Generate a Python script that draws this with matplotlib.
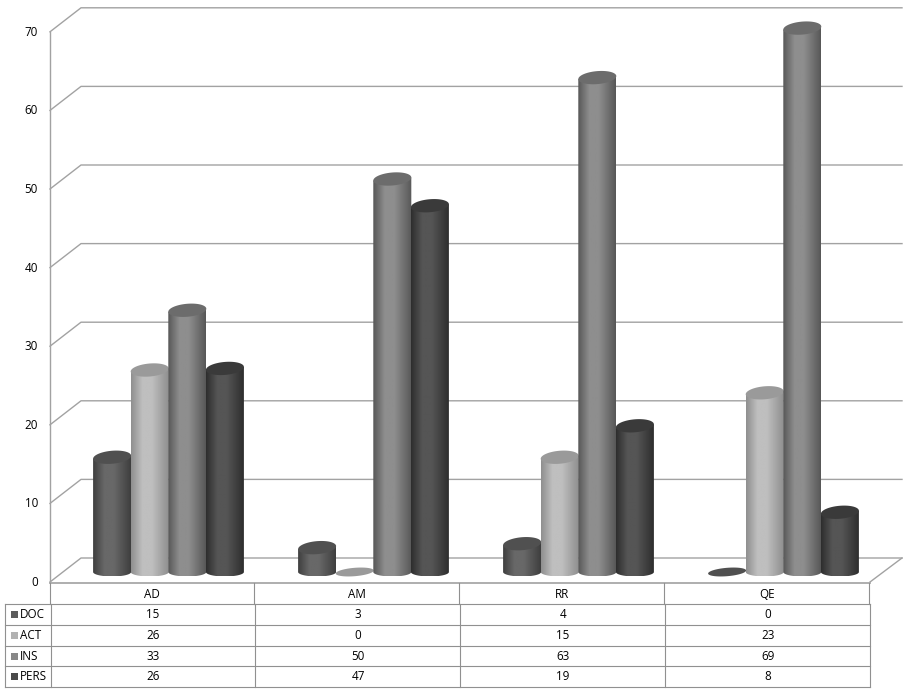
import numpy as np
import matplotlib
matplotlib.use("Agg")
import matplotlib.pyplot as plt
from matplotlib.colors import LinearSegmentedColormap
from matplotlib.patches import Polygon, Rectangle

categories = ["AD", "AM", "RR", "QE"]
series = ["DOC", "ACT", "INS", "PERS"]
# cylinder heights, the table shows them rounded
doc = [14.6, 3.1, 3.6, 0]
act = [25.7, 0, 14.6, 22.8]
ins = [33.3, 50, 62.9, 69.2]
pers = [25.9, 46.6, 18.6, 7.6]
yticks = [0, 10, 20, 30, 40, 50, 60, 70]

# edge, middle, top cap, legend swatch
styles = {
    "DOC": ("#3f3f3f", "#686868", "#505050", "#5c5c5c"),
    "ACT": ("#8f8f8f", "#bfbfbf", "#9a9a9a", "#b2b2b2"),
    "INS": ("#585858", "#8e8e8e", "#6c6c6c", "#888888"),
    "PERS": ("#2e2e2e", "#555555", "#3a3a3a", "#4a4a4a"),
}

W, H = 906, 696
PX_PER_UNIT = 7.86
LINE = "#a2a2a2"
plt.rcParams["font.family"] = ["Open Sans", "DejaVu Sans"]
plt.rcParams["font.size"] = 8.4

fig = plt.figure(figsize=(W / 100, H / 100), dpi=100, facecolor="white")

# frame axes in pixels, for the walls and the table
fr = fig.add_axes([0, 0, 1, 1])
fr.set_xlim(0, W)
fr.set_ylim(H, 0)
fr.axis("off")

for v in yticks:
    front = 582 - v * PX_PER_UNIT
    fr.plot([50, 81, 902], [front, front - 24, front - 24], color=LINE, lw=1.0, zorder=1)
    fr.text(38, front + 0.5, str(v), ha="right", va="center", color="#000000")
fr.plot([50, 50], [32, 582], color=LINE, lw=1.0, zorder=1)
fr.plot([870, 902], [582, 558], color=LINE, lw=1.0, zorder=1)

# table
grid = "#909090"
row_y = [604, 625, 646, 666, 687]
col_x = [51, 255, 460, 665, 870]
fr.plot([50, 870], [583, 583], color="#a8a8a8", lw=1.3)
for x in col_x:
    fr.plot([x - 1, x - 1], [583, 604], color=grid, lw=0.8)
    fr.plot([x, x], [604, 687], color=grid, lw=0.8)
fr.plot([5, 5], [604, 687], color=grid, lw=0.8)
for y in row_y:
    fr.plot([5, 870], [y, y], color=grid, lw=0.8)
for i, c in enumerate(categories):
    fr.text(152 + 205 * i, 595, c, ha="center", va="center", color="#000000")
for r, (name, vals) in enumerate(zip(series, [doc, act, ins, pers])):
    yc = (row_y[r] + row_y[r + 1]) / 2
    fr.add_patch(Rectangle((10.5, yc - 3.5), 7, 7, color=styles[name][3], lw=0))
    fr.text(20, yc, name, ha="left", va="center", color="#000000")
    for i, v in enumerate(vals):
        fr.text(153 + 205 * i, yc, str(round(v)), ha="center", va="center", color="#000000")

# chart axes: x in categories, y in values, zero on the plane of the cylinders
YMIN = -10 / PX_PER_UNIT
YMAX = 550 / PX_PER_UNIT
ax = fig.add_axes([50 / W, (H - 582) / H, 820 / W, 560 / H])
ax.axis("off")
ax.patch.set_alpha(0)

half_w = 19 / 205
cap_h = 6.5 / PX_PER_UNIT
base_h = 4.5 / PX_PER_UNIT
tilt = 1.5 / PX_PER_UNIT
step = 37.6 / 205
shift = 16 / 205
t = np.linspace(0, np.pi, 40)
ring = np.linspace(0, 2 * np.pi, 80)
grad = np.linspace(0, 1, 64).reshape(1, -1)


def cylinder(x, v, name, z):
    edge, mid, cap, _ = styles[name]
    if v > 0:
        cmap = LinearSegmentedColormap.from_list(
            name, [(0, edge), (0.3, mid), (0.55, mid), (1, edge)], N=64)
        im = ax.imshow(grad, cmap=cmap, aspect="auto", zorder=z, interpolation="bilinear",
                       extent=(x - half_w, x + half_w, -base_h, v + tilt))
        low = np.column_stack([x - half_w * np.cos(t), -base_h * np.sin(t)])
        body = np.vstack([low, [[x + half_w, v + tilt], [x - half_w, v - tilt]]])
        clip = Polygon(body, closed=True, transform=ax.transData, fc="none", ec="none")
        ax.add_patch(clip)
        im.set_clip_path(clip)
    # zero height cylinders only show a flat disc
    h = cap_h if v > 0 else 4.2 / PX_PER_UNIT
    cx = x + half_w * np.cos(ring)
    cy = v + h * np.sin(ring) + tilt * np.cos(ring)
    ax.add_patch(Polygon(np.column_stack([cx, cy]), closed=True, fc=cap, ec="none",
                         zorder=z + 0.5, clip_on=False))


for j, (name, vals) in enumerate(zip(series, [doc, act, ins, pers])):
    for i, v in enumerate(vals):
        cylinder(i + 0.5 + shift + (j - 1.5) * step, v, name, 3 + j)

ax.set_xlim(0, 4)
ax.set_ylim(YMIN, YMAX)
fig.savefig("out.png", dpi=100)
